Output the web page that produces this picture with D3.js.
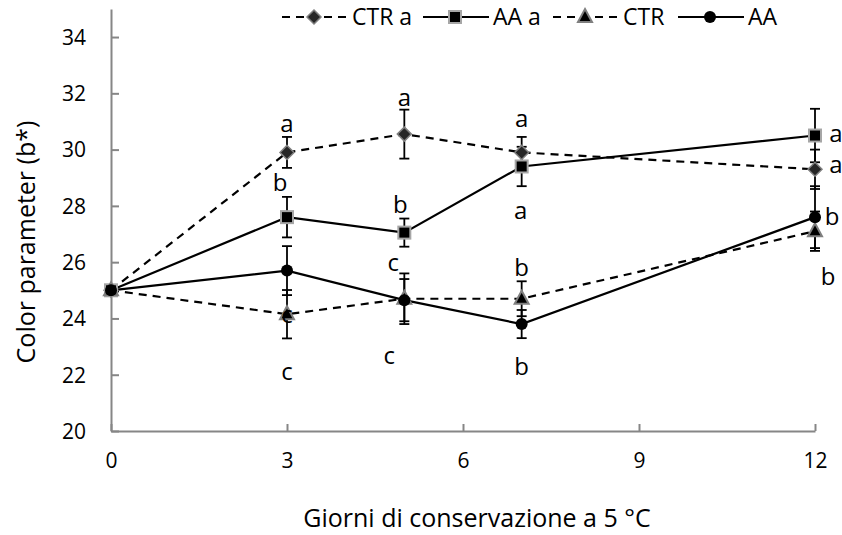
<!DOCTYPE html>
<html lang="it">
<head>
<meta charset="UTF-8">
<title>Color parameter (b*)</title>
<script src="https://d3js.org/d3.v7.min.js"></script>
<style>
  body { margin: 0; background: #fff; }
  text { font-family: "Open Sans", "Noto Sans", sans-serif; fill: #000; }
</style>
</head>
<body>
<svg id="chart" width="842" height="535"></svg>
<script>
// data
const days = [0, 3, 5, 7, 12];
const ctrA = [25, 29.9, 30.55, 29.9, 29.3];
const ctrAErr = [0, 0.55, 0.87, 0.55, 0.7];
const aaA = [25, 27.6, 27.05, 29.4, 30.5];
const aaAErr = [0, 0.72, 0.5, 0.7, 0.95];
const ctr = [25, 24.15, 24.7, 24.7, 27.1];
const ctrErr = [0, 0.86, 0.9, 0.62, 0.7];
const aa = [25, 25.7, 24.65, 23.8, 27.6];
const aaErr = [0, 0.87, 0.75, 0.5, 1.1];

const ctrALetters = ["", "a", "a", "a", "a"];
const aaALetters = ["", "b", "b", "a", "a"];
const ctrLetters = ["", "c", "c", "b", "b"];
const aaLetters = ["", "c", "c", "b", "b"];

const xTicks = [0, 3, 6, 9, 12];
const yTicks = [20, 22, 24, 26, 28, 30, 32, 34];

// label offsets in pixels (dx, dy) from each point
const ctrAOff = [[0, 0], [0, -29], [0, -37], [0, -34], [21, -5]];
const aaAOff = [[0, 0], [-7, -35], [-4, -28], [-1, 44], [21, -2]];
const ctrOff = [[0, 0], [0, 57], [-15, 57], [0, -31], [13, 45]];
const aaOff = [[0, 0], [0, 44], [-11, -38], [0, 43], [17, -1]];

const series = [
  { name: "CTR a", vals: ctrA, err: ctrAErr, letters: ctrALetters, off: ctrAOff, dash: "8,6", marker: "diamond" },
  { name: "AA a", vals: aaA, err: aaAErr, letters: aaALetters, off: aaAOff, dash: null, marker: "square" },
  { name: "CTR", vals: ctr, err: ctrErr, letters: ctrLetters, off: ctrOff, dash: "8,6", marker: "triangle" },
  { name: "AA", vals: aa, err: aaErr, letters: aaLetters, off: aaOff, dash: null, marker: "circle" }
];

const svg = d3.select("#chart");
const axisColor = "#868686";

const x = d3.scaleLinear().domain([0, 12]).range([111, 815]);
const y = d3.scaleLinear().domain([20, 35]).range([431, 8.9]);

// axes
const yAxis = svg.append("g")
  .attr("transform", `translate(${x(0)},0)`)
  .call(d3.axisLeft(y).tickValues(yTicks).tickSizeInner(-8).tickSizeOuter(0).tickPadding(25));
const xAxis = svg.append("g")
  .attr("transform", `translate(0,${y(20)})`)
  .call(d3.axisBottom(x).tickValues(xTicks).tickSizeInner(-7).tickSizeOuter(0).tickPadding(22));

[xAxis, yAxis].forEach(g => {
  g.select(".domain").attr("stroke", axisColor).attr("stroke-width", 2);
  g.selectAll(".tick line").attr("stroke", axisColor).attr("stroke-width", 2);
  g.selectAll(".tick text").style("font-size", "21px").attr("fill", "#000");
});
yAxis.selectAll(".tick text").attr("dy", "0.35em");

// axis titles
svg.append("text")
  .attr("transform", "translate(35,242) rotate(-90)")
  .attr("text-anchor", "middle")
  .style("font-size", "25px")
  .text("Color parameter (b*)");

svg.append("text")
  .attr("x", 477)
  .attr("y", 527)
  .attr("text-anchor", "middle")
  .style("font-size", "25px")
  .text("Giorni di conservazione a 5 °C");

const line = d3.line()
  .x((d, i) => x(days[i]))
  .y(d => y(d));

// lines
series.forEach(s => {
  svg.append("path")
    .datum(s.vals)
    .attr("fill", "none")
    .attr("stroke", "#000")
    .attr("stroke-width", 2.2)
    .attr("stroke-dasharray", s.dash)
    .attr("d", line);
});

// error bars
series.forEach(s => {
  const g = svg.append("g");
  s.vals.forEach((v, i) => {
    if (!s.err[i]) return;
    const cx = x(days[i]);
    const top = y(v + s.err[i]), bot = y(v - s.err[i]);
    g.append("line").attr("x1", cx).attr("x2", cx).attr("y1", top).attr("y2", bot)
      .attr("stroke", "#000").attr("stroke-width", 1.8);
    [top, bot].forEach(yy => {
      g.append("line").attr("x1", cx - 5).attr("x2", cx + 5).attr("y1", yy).attr("y2", yy)
        .attr("stroke", "#000").attr("stroke-width", 1.8);
    });
  });
});

// markers
function drawMarker(g, type, cx, cy) {
  if (type === "diamond") {
    g.append("path")
      .attr("d", `M${cx},${cy - 7}L${cx + 7},${cy}L${cx},${cy + 7}L${cx - 7},${cy}Z`)
      .attr("fill", "#262626").attr("stroke", "#7f7f7f").attr("stroke-width", 1.5);
  } else if (type === "square") {
    g.append("rect")
      .attr("x", cx - 6).attr("y", cy - 6).attr("width", 12).attr("height", 12)
      .attr("fill", "#000").attr("stroke", "#a6a6a6").attr("stroke-width", 2);
  } else if (type === "triangle") {
    g.append("path")
      .attr("d", `M${cx},${cy - 8}L${cx + 7},${cy + 5}L${cx - 7},${cy + 5}Z`)
      .attr("fill", "#000").attr("stroke", "#7f7f7f").attr("stroke-width", 2);
  } else {
    g.append("circle")
      .attr("cx", cx).attr("cy", cy).attr("r", 6)
      .attr("fill", "#000");
  }
}

series.forEach(s => {
  const g = svg.append("g");
  s.vals.forEach((v, i) => drawMarker(g, s.marker, x(days[i]), y(v)));
});

// significance letters
series.forEach(s => {
  svg.append("g").selectAll("text")
    .data(s.vals)
    .join("text")
    .attr("x", (d, i) => x(days[i]) + s.off[i][0])
    .attr("y", (d, i) => y(d) + s.off[i][1])
    .attr("dy", "0.35em")
    .attr("text-anchor", "middle")
    .style("font-size", "24px")
    .text((d, i) => s.letters[i]);
});

// legend
const legendX = [282, 423, 553, 678];
const legendY = 17;
const legend = svg.append("g");
series.forEach((s, i) => {
  const lx = legendX[i];
  legend.append("line")
    .attr("x1", lx).attr("x2", lx + 66).attr("y1", legendY).attr("y2", legendY)
    .attr("stroke", "#000").attr("stroke-width", 2.2)
    .attr("stroke-dasharray", s.dash ? "8,6" : null);
  drawMarker(legend, s.marker, lx + 32, legendY);
  legend.append("text")
    .attr("x", lx + 70)
    .attr("y", legendY)
    .attr("dy", "0.35em")
    .style("font-size", "23px")
    .text(s.name);
});
</script>
</body>
</html>
